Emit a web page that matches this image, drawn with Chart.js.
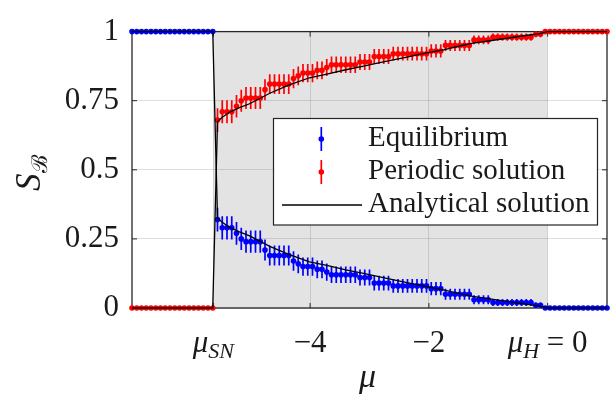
<!DOCTYPE html>
<html><head><meta charset="utf-8">
<script src="https://cdn.jsdelivr.net/npm/chart.js@4/dist/chart.umd.min.js"></script>
<style>html,body{margin:0;padding:0;background:#fff;}#wrap{width:616px;height:397px;position:relative;}</style>
</head><body><div id="wrap"><canvas id="c" width="616" height="397"></canvas></div>
<script>
// ---------- data ----------
const mu = [-7,-6.92,-6.84,-6.76,-6.68,-6.6,-6.52,-6.44,-6.36,-6.28,-6.2,-6.12,-6.04,-5.96,-5.88,-5.8,-5.72,-5.64,
 -5.56,-5.48,-5.4,-5.32,-5.24,-5.16,-5.08,-5,-4.92,-4.84,-4.76,-4.68,-4.6,-4.52,-4.44,-4.36,-4.28,-4.2,-4.12,-4.04,
 -3.96,-3.88,-3.8,-3.72,-3.64,-3.56,-3.48,-3.4,-3.32,-3.24,-3.16,-3.08,-3,-2.92,-2.84,-2.76,-2.68,-2.6,-2.52,-2.44,
 -2.36,-2.28,-2.2,-2.12,-2.04,-1.96,-1.88,-1.8,-1.72,-1.64,-1.56,-1.48,-1.4,-1.32,-1.24,-1.16,-1.08,-1,-0.92,-0.84,
 -0.76,-0.68,-0.6,-0.52,-0.44,-0.36,-0.28,-0.2,-0.12,-0.04,0.04,0.12,0.2,0.28,0.36,0.44,0.52,0.6,0.68,0.76,0.84,0.92,1];
const periodic = [0,0,0,0,0,0,0,0,0,0,0,0,0,0,0,0,0,0,
 0.68,0.71,0.71,0.71,0.73,0.75,0.76,0.76,0.76,0.76,0.79,0.81,0.81,0.81,0.81,0.81,0.83,0.84,0.85,0.85,0.85,0.86,0.86,0.87,
 0.88,0.88,0.88,0.88,0.88,0.88,0.89,0.89,0.89,0.91,0.91,0.91,0.91,0.92,0.92,0.92,0.92,0.92,0.92,0.92,0.92,
 0.93,0.93,0.93,0.95,0.95,0.95,0.95,0.95,0.95,0.97,0.97,0.97,0.97,0.98,0.98,0.98,0.98,0.98,0.98,0.98,0.98,0.98,
 0.99,0.99,1,1,1,1,1,1,1,1,1,1,1,1,1,1];
const equilibrium = [1,1,1,1,1,1,1,1,1,1,1,1,1,1,1,1,1,1,
 0.32,0.29,0.29,0.29,0.27,0.25,0.24,0.24,0.24,0.24,0.21,0.19,0.19,0.19,0.19,0.19,0.17,0.16,0.15,0.15,0.15,0.14,0.14,0.13,
 0.12,0.12,0.12,0.12,0.12,0.12,0.11,0.11,0.11,0.09,0.09,0.09,0.09,0.08,0.08,0.08,0.08,0.08,0.08,0.08,0.08,
 0.07,0.07,0.07,0.05,0.05,0.05,0.05,0.05,0.05,0.03,0.03,0.03,0.03,0.02,0.02,0.02,0.02,0.02,0.02,0.02,0.02,0.02,
 0.01,0.01,0,0,0,0,0,0,0,0,0,0,0,0,0,0];
const errHalf = [0,0,0,0,0,0,0,0,0,0,0,0,0,0,0,0,0,0,
 0.043,0.042,0.042,0.042,0.041,0.040,0.040,0.040,0.040,0.040,0.038,0.036,0.036,0.036,0.036,0.036,0.035,0.034,0.033,0.033,0.033,0.032,0.032,0.031,
 0.030,0.030,0.030,0.030,0.030,0.030,0.029,0.029,0.029,0.027,0.027,0.027,0.027,0.025,0.025,0.025,0.025,0.025,0.025,0.025,0.025,
 0.024,0.024,0.024,0.020,0.020,0.020,0.020,0.020,0.020,0.016,0.016,0.016,0.016,0.013,0.013,0.013,0.013,0.013,0.013,0.013,0.013,0.013,
 0.010,0.010,0,0,0,0,0,0,0,0,0,0,0,0,0,0];
const anaMu = [-7,-5.64,-5.56,-5.48,-5.36,-5.2,-5.02,-4.84,-4.68,-4.35,-4.01,-3.7,-3.4,-3.08,-2.75,-2.41,-2.08,-1.74,-1.5,-1.26,-1,-0.69,-0.4,-0.13,0,1];
const anaPeriodic = [0,0,0.675,0.69,0.708,0.724,0.739,0.759,0.777,0.807,0.833,0.847,0.862,0.876,0.891,0.906,0.921,0.935,0.947,0.958,0.966,0.976,0.985,0.993,1,1];
const anaEquilibrium = [1,1,0.325,0.31,0.292,0.276,0.261,0.241,0.223,0.193,0.167,0.153,0.138,0.124,0.109,0.094,0.079,0.065,0.053,0.042,0.034,0.024,0.015,0.007,0,0];
const shadeRange = [-5.63, 0];
const xTickValues = [-5.63, -4, -2, 0];
const xTickLabels = [['μ','SN',''], ['','','−4'], ['','','−2'], ['μ','H',' = 0']];
const yTickValues = [0, 0.25, 0.5, 0.75, 1];
const yTickLabels = ['0','0.25','0.5','0.75','1'];
const legendLabels = ['Equilibrium','Periodic solution','Analytical solution'];

// ---------- styles ----------
const SERIF = '"Liberation Serif","DejaVu Serif",serif';
const AXC = '#262626';
const BLUE = '#0000ff', RED = '#ff0000';
const GRID = 'rgba(38,38,38,0.15)';

const pts = (xs, ys) => xs.map((x, i) => ({x, y: ys[i]}));

const shadePlugin = {
  id: 'shade',
  beforeDraw(chart) {
    const {ctx, chartArea: a, scales: {x}} = chart;
    const x0 = x.getPixelForValue(shadeRange[0]), x1 = x.getPixelForValue(shadeRange[1]);
    ctx.save();
    ctx.fillStyle = '#e3e3e3';
    ctx.fillRect(x0, a.top, x1 - x0, a.bottom - a.top);
    ctx.restore();
  }
};

const boxErrPlugin = {
  id: 'boxerr',
  beforeDatasetsDraw(chart) {
    const {ctx, chartArea: a, scales: {x, y}} = chart;
    ctx.save();
    ctx.strokeStyle = AXC; ctx.lineWidth = 1.3;
    ctx.strokeRect(a.left, a.top, a.right - a.left, a.bottom - a.top);
    ctx.lineWidth = 1;
    const tl = 5;
    ctx.beginPath();
    xTickValues.forEach(v => { const px = x.getPixelForValue(v);
      ctx.moveTo(px, a.bottom); ctx.lineTo(px, a.bottom - tl);
      ctx.moveTo(px, a.top); ctx.lineTo(px, a.top + tl); });
    yTickValues.forEach(v => { const py = y.getPixelForValue(v);
      ctx.moveTo(a.left, py); ctx.lineTo(a.left + tl, py);
      ctx.moveTo(a.right, py); ctx.lineTo(a.right - tl, py); });
    ctx.stroke();
    [[equilibrium, BLUE], [periodic, RED]].forEach(([vals, col]) => {
      ctx.strokeStyle = col; ctx.lineWidth = 1.7;
      ctx.beginPath();
      mu.forEach((m, i) => {
        const e = errHalf[i]; if (!e) return;
        const px = x.getPixelForValue(m);
        ctx.moveTo(px, y.getPixelForValue(vals[i] - e));
        ctx.lineTo(px, y.getPixelForValue(vals[i] + e));
      });
      ctx.stroke();
    });
    ctx.restore();
  }
};

function drawMath(ctx, parts, cx, baseline, size) {
  const f0 = `italic ${size}px ${SERIF}`, f1 = `italic ${Math.round(size*0.72)}px ${SERIF}`, f2 = `${size}px ${SERIF}`;
  ctx.font = f0; const w0 = ctx.measureText(parts[0]).width;
  ctx.font = f1; const w1 = ctx.measureText(parts[1]).width;
  ctx.font = f2; const w2 = ctx.measureText(parts[2]).width;
  let xx = cx - (w0 + w1 + w2) / 2;
  ctx.textAlign = 'left'; ctx.textBaseline = 'alphabetic';
  ctx.font = f0; ctx.fillText(parts[0], xx, baseline); xx += w0;
  ctx.font = f1; ctx.fillText(parts[1], xx, baseline + size*0.2); xx += w1;
  ctx.font = f2; ctx.fillText(parts[2], xx, baseline);
}

const textPlugin = {
  id: 'texts',
  afterDraw(chart) {
    const {ctx, chartArea: a, scales: {x}} = chart;
    ctx.save();
    ctx.fillStyle = '#1a1a1a';
    xTickValues.forEach((v, i) => drawMath(ctx, xTickLabels[i], x.getPixelForValue(v), 352, 31));
    ctx.font = `italic 34px ${SERIF}`; ctx.textAlign = 'center'; ctx.textBaseline = 'alphabetic';
    ctx.fillText('μ', (a.left + a.right) / 2 - 2, 387);
    ctx.save();
    ctx.translate(40, 191); ctx.rotate(-Math.PI / 2);
    ctx.textAlign = 'left';
    ctx.font = `italic 35px ${SERIF}`; ctx.fillText('S', 0, 0);
    const sw = ctx.measureText('S').width;
    ctx.font = `22px ${SERIF}`; ctx.fillText('ℬ', sw + 1, 7);
    ctx.restore();
    // legend
    const L = 273.5, T = 118.5, W = 324, H = 106.5;
    ctx.fillStyle = '#fff'; ctx.fillRect(L, T, W, H);
    ctx.strokeStyle = AXC; ctx.lineWidth = 1.2; ctx.strokeRect(L, T, W, H);
    const rowY = [139, 172, 205];
    [[BLUE, 0], [RED, 1]].forEach(([col, k]) => {
      ctx.strokeStyle = col; ctx.lineWidth = 1.7;
      ctx.beginPath(); ctx.moveTo(321.3, rowY[k] - 12); ctx.lineTo(321.3, rowY[k] + 12); ctx.stroke();
      ctx.fillStyle = col; ctx.beginPath(); ctx.arc(321.3, rowY[k], 2.8, 0, 2*Math.PI); ctx.fill();
    });
    ctx.strokeStyle = '#000'; ctx.lineWidth = 1.3;
    ctx.beginPath(); ctx.moveTo(282, rowY[2]); ctx.lineTo(362, rowY[2]); ctx.stroke();
    ctx.fillStyle = '#1a1a1a'; ctx.font = `29px ${SERIF}`; ctx.textAlign = 'left'; ctx.textBaseline = 'alphabetic';
    legendLabels.forEach((t, k) => ctx.fillText(t, 368, rowY[k] + 7));
    ctx.restore();
  }
};

new Chart(document.getElementById('c'), {
  type: 'scatter',
  data: {
    datasets: [
      {label: 'Analytical solution', data: pts(anaMu, anaPeriodic), showLine: true, borderColor: '#000', borderWidth: 1.3, pointRadius: 0, fill: false, clip: false},
      {label: 'Analytical solution (eq)', data: pts(anaMu, anaEquilibrium), showLine: true, borderColor: '#000', borderWidth: 1.3, pointRadius: 0, fill: false, clip: false},
      {label: 'Equilibrium', data: pts(mu, equilibrium), showLine: false, pointRadius: 2.8, pointBorderWidth: 0, backgroundColor: BLUE, borderColor: BLUE, clip: false},
      {label: 'Periodic solution', data: pts(mu, periodic), showLine: false, pointRadius: 2.8, pointBorderWidth: 0, backgroundColor: RED, borderColor: RED, clip: false}
    ]
  },
  options: {
    responsive: false, animation: false, devicePixelRatio: 1,
    layout: {padding: {top: 21, right: 9, left: 0, bottom: 0}},
    plugins: {legend: {display: false}, tooltip: {enabled: false}},
    scales: {
      x: {type: 'linear', min: -7, max: 1,
          afterBuildTicks: s => { s.ticks = xTickValues.map(v => ({value: v})); },
          afterFit: s => { s.height = 89; },
          ticks: {display: false},
          grid: {color: GRID, lineWidth: 1, drawTicks: false}, border: {display: false}},
      y: {type: 'linear', min: 0, max: 1,
          afterBuildTicks: s => { s.ticks = yTickValues.map(v => ({value: v})); },
          afterFit: s => { s.width = 132; },
          ticks: {padding: 13, color: '#1a1a1a', font: {family: SERIF, size: 31},
                  callback: (v, i) => yTickLabels[i]},
          grid: {color: GRID, lineWidth: 1, drawTicks: false}, border: {display: false}}
    }
  },
  plugins: [shadePlugin, boxErrPlugin, textPlugin]
});
</script></body></html>
